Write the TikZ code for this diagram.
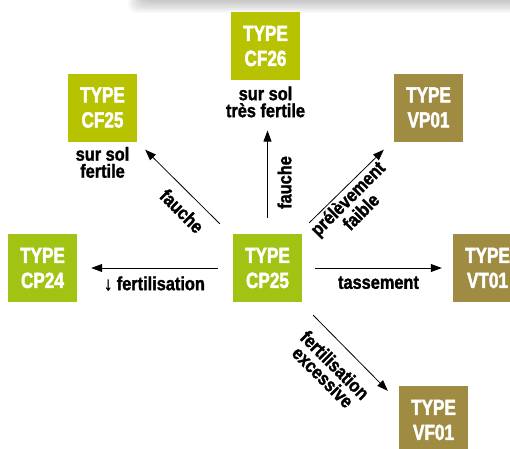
\documentclass[tikz,border=0pt]{standalone}
\usepackage{fontspec}
\setmainfont{Liberation Sans}
\newfontfamily\typefont[FakeStretch=0.78, BoldFeatures={FakeBold=2}]{Liberation Sans}
\newfontfamily\lblfont[FakeStretch=0.86, BoldFeatures={FakeBold=1.5}]{Liberation Sans}
\usetikzlibrary{arrows.meta, positioning}
\definecolor{typelime}{RGB}{183,195,0}
\definecolor{typeleaf}{RGB}{161,196,20}
\definecolor{typeolive}{RGB}{160,139,67}

\begin{document}
\begin{tikzpicture}[
    x=1pt, y=-1pt,
    tbox/.style={minimum width=69pt, minimum height=68pt, inner sep=0pt, align=center, text=white,
                 font=\typefont\bfseries\fontsize{22}{25}\selectfont},
    lime/.style={tbox, fill=typelime},
    leaf/.style={tbox, fill=typeleaf},
    olive/.style={tbox, fill=typeolive},
    lbl/.style={align=center, inner sep=0pt, font=\lblfont\bfseries\fontsize{19}{17}\selectfont},
    arr/.style={-{Triangle[length=11pt, width=8pt]}, line width=0.8pt}
]
\useasboundingbox (0,0) rectangle (510,448);
\clip (0,0) rectangle (510,448);

% shadow of the panel above
\foreach \i in {0,...,9}
  \fill[black, opacity=0.025, rounded corners=8pt] (128+\i*1.5,-20) rectangle (530,13-\i*1.3);

% Centre
\node[leaf] (cp25) at (267.5,268) {TYPE\\CP25};

% Types around
\node[lime] (cf26) at (265.5,46) {TYPE\\CF26};
\node[lbl, below=6pt of cf26] (cf26txt) {sur sol\\très fertile};
\node[lime] (cf25) at (102.5,107.5) {TYPE\\CF25};
\node[lbl, below=5pt of cf25] (cf25txt) {sur sol\\fertile};
\node[olive] (vp01) at (428.5,107.5) {TYPE\\VP01};
\node[leaf] (cp24) at (42.5,268) {TYPE\\CP24};
\node[olive] (vt01) at (487.5,268) {TYPE\\VT01};
\node[olive] (vf01) at (433.5,420) {TYPE\\VF01};

% Arrows
\draw[arr] ([xshift=-15pt]cp25.west) -- ([xshift=14pt]cp24.east)
  node[lbl, midway, below=8pt] {↓ fertilisation};
\draw[arr] ([xshift=13pt]cp25.east) -- ([xshift=-11pt]vt01.west)
  node[lbl, midway, below=8pt] {tassement};
\draw[arr] ([yshift=16pt]cp25.north) -- ([yshift=-13pt]cp25.north |- cf26txt.south);
\draw[arr] ([shift={(-13pt,10pt)}]cp25.north west) -- ([shift={(8pt,-8pt)}]cf25.south east);
\draw[arr] ([shift={(7pt,11pt)}]cp25.north east) -- ([shift={(-10pt,-8pt)}]vp01.south west);
\draw[arr] ([shift={(11pt,-13pt)}]cp25.south east) -- ([shift={(-11pt,-5pt)}]vf01.north west);

% Arrow labels
\node[lbl, rotate=90] (lfauchev) at (284.5,182.5) {fauche};
\node[lbl, rotate=-45] (lfauched) at (182,211) {fauche};
\node[lbl, rotate=45] (lprelev) at (354,205) {prélèvement\\faible};
\node[lbl, rotate=-45] (lexcess) at (329,371) {fertilisation\\excessive};

\end{tikzpicture}
\end{document}
